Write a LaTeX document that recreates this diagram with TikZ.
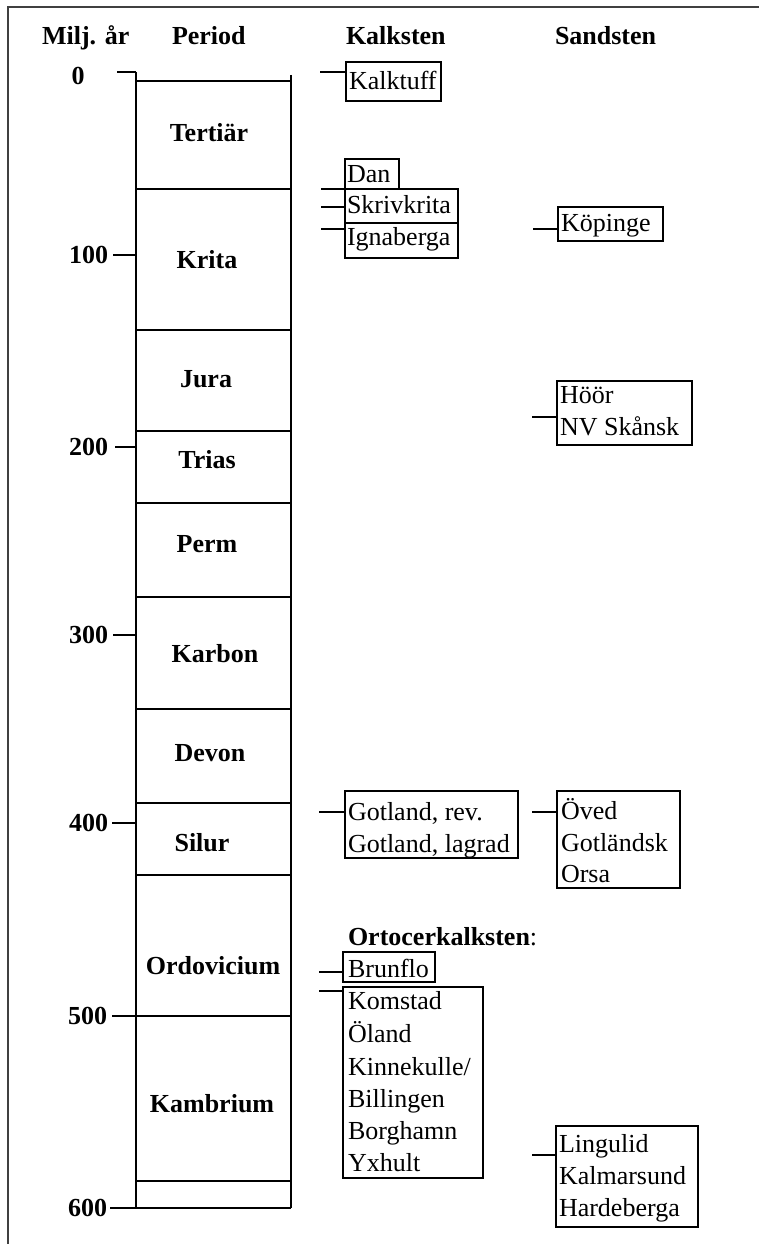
\documentclass[tikz,border=0pt]{standalone}
\usepackage{fontspec}
\setmainfont{Liberation Serif}
\begin{document}
\begin{tikzpicture}[x=1pt,y=-1pt,
  every node/.style={inner sep=0pt,outer sep=0pt},
  txt/.style={anchor=base west,font=\fontsize{26}{32}\selectfont},
  head/.style={anchor=base west,font=\fontsize{26}{32}\selectfont\bfseries},
  per/.style={anchor=base,font=\fontsize{26}{32}\selectfont\bfseries},
  age/.style={anchor=east,font=\fontsize{26}{32}\selectfont\bfseries},
  col/.style={line width=1.8pt},
  stonebox/.style={draw,line width=1.1pt,anchor=north west},
  link/.style={line width=1.1pt},
  frame/.style={line width=1.6pt,draw=black!75}
]
\useasboundingbox[fill=white] (0,0) rectangle (759,1244);

% outer frame (left and top edges)
\draw[frame] (8,1244) -- (8,7) -- (759,7);

% column headers
\node[head] (hage) at (42,45) {Milj. år};
\node[head] (hper) at (172,45) {Period};
\node[head] (hkalk) at (346,45) {Kalksten};
\node[head] (hsand) at (555,45) {Sandsten};

% time column
\draw[col] (136,72) -- (136,1208);
\draw[col] (291,75) -- (291,1208);
\foreach \y in {81,189,330,431,503,597,709,803,875,1016,1181,1208}
  \draw[col] (136,\y) -- (291,\y);

% age ticks and labels
\draw[col] (117,72) -- (136,72);
\draw[col] (113,255) -- (136,255);
\draw[col] (115,447) -- (136,447);
\draw[col] (113,635) -- (136,635);
\draw[col] (112,823) -- (136,823);
\draw[col] (112,1016) -- (136,1016);
\draw[col] (110,1208) -- (136,1208);
\node[font=\fontsize{26}{32}\selectfont\bfseries] (a0) at (78,76) {0};
\node[age] (a100) at (108,255) {100};
\node[age] (a200) at (108,447) {200};
\node[age] (a300) at (108,635) {300};
\node[age] (a400) at (108,823) {400};
\node[age] (a500) at (107,1016) {500};
\node[age] (a600) at (107,1208) {600};

% period names
\node[per] (tert) at (209,141) {Tertiär};
\node[per] (krit) at (207,268) {Krita};
\node[per] (jura) at (206,387) {Jura};
\node[per] (trias) at (207,468) {Trias};
\node[per] (perm) at (207,552) {Perm};
\node[per] (karb) at (215,662) {Karbon};
\node[per] (devo) at (210,761) {Devon};
\node[per] (silu) at (202,851) {Silur};
\node[per] (ordo) at (213,974) {Ordovicium};
\node[per] (kamb) at (212,1112) {Kambrium};

% limestone boxes
\node[stonebox,minimum width=95pt,minimum height=39pt] (kalktuff) at (346,62) {};
\node[txt] at (349,90) {Kalktuff};
\node[stonebox,minimum width=54pt,minimum height=30pt] (dan) at (345,159) {};
\node[txt] at (347,182) {Dan};
\node[stonebox,minimum width=113pt,minimum height=34pt] (skriv) at (345,189) {};
\node[txt] at (347,213) {Skrivkrita};
\node[stonebox,minimum width=113pt,minimum height=35pt] (igna) at (345,223) {};
\node[txt] at (347,245) {Ignaberga};
\node[stonebox,minimum width=173pt,minimum height=67pt] (gotl) at (345,791) {};
\node[txt] at (348,820) {Gotland, rev.};
\node[txt] at (348,852) {Gotland, lagrad};
\node[txt] (orto) at (348,945) {\textbf{Ortocerkalksten}:};
\node[stonebox,minimum width=92pt,minimum height=30pt] (brun) at (343,952) {};
\node[txt] at (348,977) {Brunflo};
\node[stonebox,minimum width=140pt,minimum height=191pt] (komst) at (343,987) {};
\node[txt] at (348,1009) {Komstad};
\node[txt] at (348,1042) {Öland};
\node[txt] at (348,1075) {Kinnekulle/};
\node[txt] at (348,1107) {Billingen};
\node[txt] at (348,1139) {Borghamn};
\node[txt] at (348,1171) {Yxhult};

% sandstone boxes
\node[stonebox,minimum width=105pt,minimum height=34pt] (kop) at (558,207) {};
\node[txt] at (561,231) {Köpinge};
\node[stonebox,minimum width=135pt,minimum height=64pt] (hoor) at (557,381) {};
\node[txt] at (560,403) {Höör};
\node[txt] at (560,435) {NV Skånsk};
\node[stonebox,minimum width=123pt,minimum height=97pt] (oved) at (557,791) {};
\node[txt] at (561,819) {Öved};
\node[txt] at (561,851) {Gotländsk};
\node[txt] at (561,882) {Orsa};
\node[stonebox,minimum width=142pt,minimum height=101pt] (ling) at (556,1126) {};
\node[txt] at (559,1152) {Lingulid};
\node[txt] at (559,1184) {Kalmarsund};
\node[txt] at (559,1216) {Hardeberga};

% connectors from the time scale to the boxes
\coordinate (ckalktuff) at (320,72);
\coordinate (cdan) at (321,189);
\coordinate (cskriv) at (321,207);
\coordinate (cigna) at (321,229);
\coordinate (ckop) at (533,229);
\coordinate (choor) at (532,417);
\coordinate (cgotl) at (319,812);
\coordinate (coved) at (532,812);
\coordinate (cbrun) at (319,972);
\coordinate (ckomst) at (319,991);
\coordinate (cling) at (532,1155);
\foreach \b in {kalktuff,dan,skriv,igna,kop,hoor,gotl,oved,brun,komst,ling}
  \draw[link] (c\b) -- (c\b -| \b.west);
\end{tikzpicture}
\end{document}
